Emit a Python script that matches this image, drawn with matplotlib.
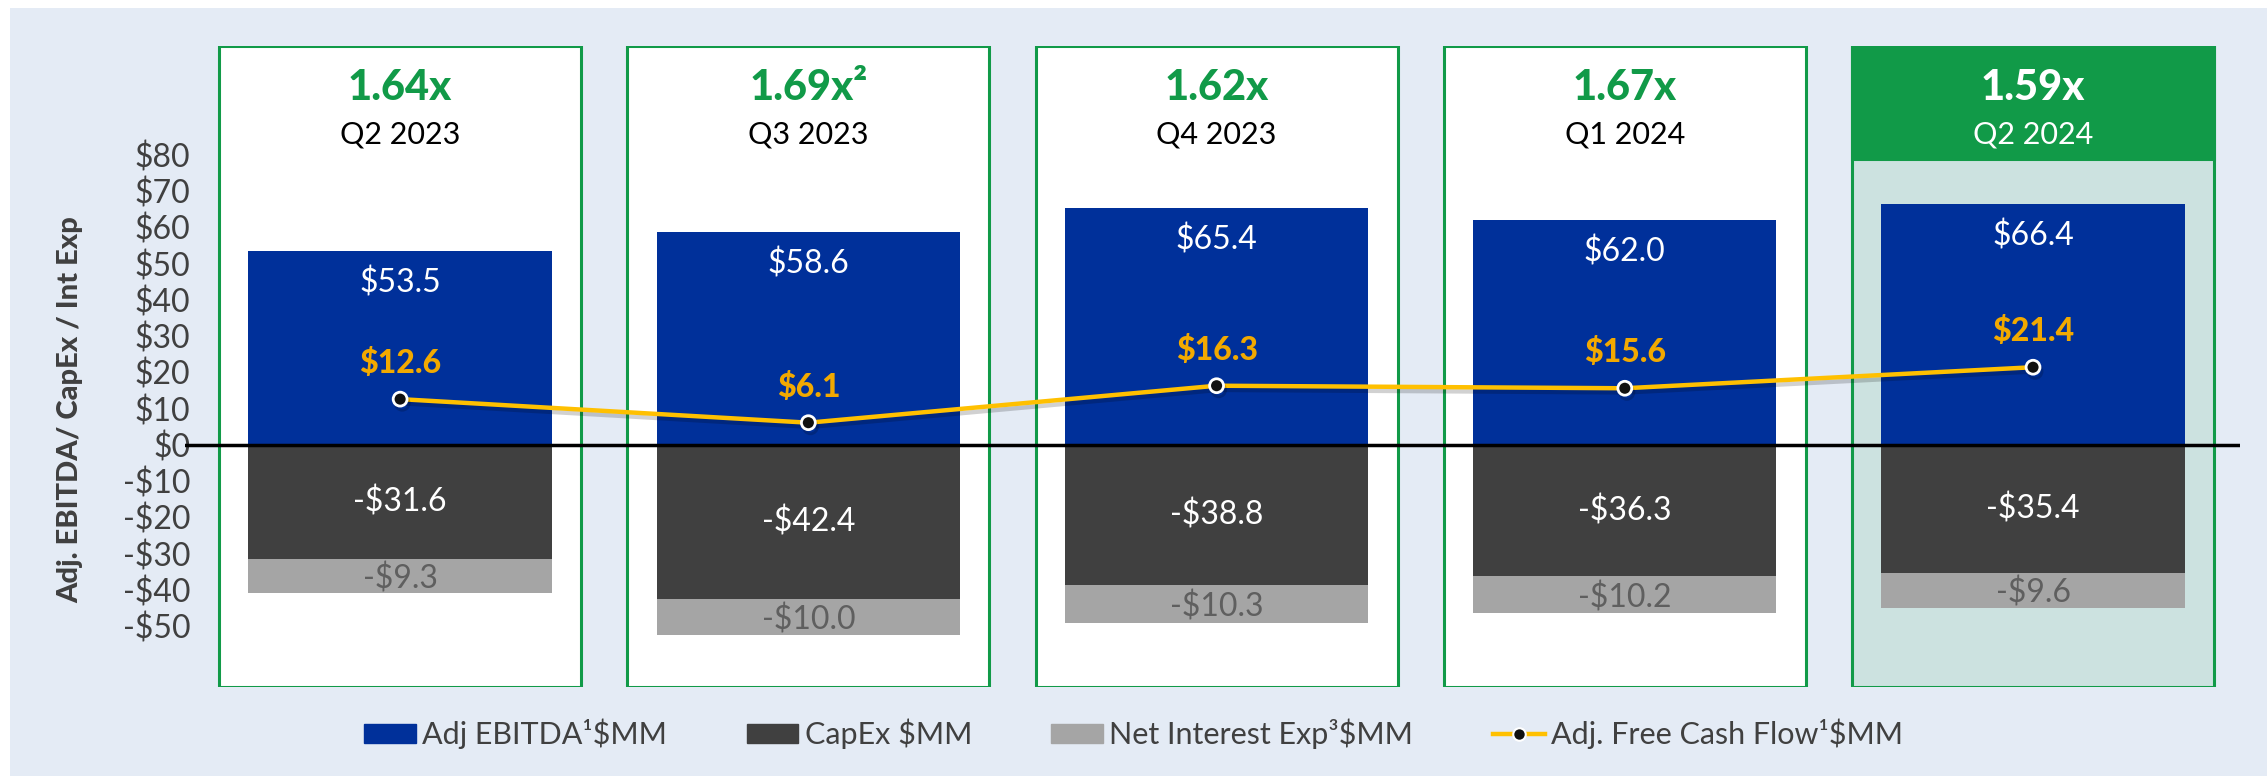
import matplotlib
matplotlib.use("Agg")
import matplotlib.pyplot as plt
from matplotlib.patches import Rectangle, Patch
from matplotlib.lines import Line2D
import matplotlib.patheffects as pe

plt.rcParams['font.family'] = ['Lato', 'DejaVu Sans']

# data
quarters = ["Q2 2023", "Q3 2023", "Q4 2023", "Q1 2024", "Q2 2024"]
ratios = ["1.64x", "1.69x²", "1.62x", "1.67x", "1.59x"]
ebitda = [53.5, 58.6, 65.4, 62.0, 66.4]
capex = [-31.6, -42.4, -38.8, -36.3, -35.4]
net_int = [-9.3, -10.0, -10.3, -10.2, -9.6]
fcf = [12.6, 6.1, 16.3, 15.6, 21.4]
yticks = [80, 70, 60, 50, 40, 30, 20, 10, 0, -10, -20, -30, -40, -50]

blue = "#00309A"
dark = "#404040"
grey = "#A5A5A5"
gold = "#FFC000"
green = "#119A48"

W, H = 2267, 776
fig = plt.figure(figsize=(W / 100, H / 100), dpi=100)
fig.patch.set_facecolor("white")
# light blue background panel
fig.patches.append(Rectangle((10 / W, 0), 1, 1 - 8 / H, transform=fig.transFigure,
                             facecolor="#E4EBF5", edgecolor="none", zorder=-10))

ax = fig.add_axes([185 / W, 1 - 687 / H, (2240 - 185) / W, (687 - 46) / H])
ax.set_facecolor("none")
ax.set_xlim(-0.527, 4.507)
ax.set_ylim(-66.8, 110)
x = list(range(len(quarters)))

# boxes around each quarter
bw = 0.887
for i in x:
    last = i == len(x) - 1
    ax.add_patch(Rectangle((i - bw / 2, -66.8), bw, 176.8,
                           facecolor="#CCE2E0" if last else "white",
                           edgecolor=green, lw=2.2, zorder=0))
    if last:
        ax.add_patch(Rectangle((i - bw / 2, 78.9), bw, 31.1,
                               facecolor=green, edgecolor=green, lw=2.2, zorder=1))
    ax.text(i, 98.4, ratios[i], ha="center", va="center", fontsize=30, fontweight="black",
            color="white" if last else green, zorder=3)
    ax.text(i, 85.6, quarters[i], ha="center", va="center", fontsize=22,
            color="white" if last else "black", zorder=3)

bar_w = 0.743
ax.bar(x, ebitda, bar_w, color=blue, zorder=2)
ax.bar(x, capex, bar_w, color=dark, zorder=2)
ax.bar(x, net_int, bar_w, bottom=capex, color=grey, zorder=2)

ax.axhline(0, color="black", lw=2.5, zorder=4)

line, = ax.plot(x, fcf, color=gold, lw=3.2, marker="o", markersize=10,
                markerfacecolor="#111111", markeredgecolor="white", markeredgewidth=2, zorder=5)
line.set_path_effects([pe.SimpleLineShadow(offset=(1.5, -3), alpha=0.18, shadow_color="black"), pe.Normal()])

for i in x:
    ax.annotate("$%.1f" % ebitda[i], (i, ebitda[i]), xytext=(0, -23), textcoords="offset points",
                ha="center", va="center", fontsize=23, color="white", zorder=6)
    ax.annotate("$%.1f" % fcf[i], (i, fcf[i]), xytext=(0, 26), textcoords="offset points",
                ha="center", va="center", fontsize=23, fontweight="black", color="#F2A900", zorder=6)
    ax.text(i, capex[i] / 2, "-$%.1f" % abs(capex[i]), ha="center", va="center",
            fontsize=23, color="white", zorder=6)
    ax.text(i, capex[i] + net_int[i] / 2 - 0.8, "-$%.1f" % abs(net_int[i]), ha="center", va="center",
            fontsize=23, color="#5F5F5F", zorder=6)

ax.set_yticks(yticks)
ax.set_yticklabels([("-$%d" % -v) if v < 0 else ("$%d" % v) for v in yticks])
ax.tick_params(axis="y", length=0, labelsize=23, labelcolor=dark, pad=-4)
ax.set_xticks([])
for s in ax.spines.values():
    s.set_visible(False)

fig.text(70 / W, 1 - 410 / H, "Adj. EBITDA/ CapEx / Int Exp", rotation=90, ha="center", va="center",
         fontsize=21, fontweight="black", color=dark)

handles = [Patch(color=blue), Patch(color=dark), Patch(color=grey),
           Line2D([], [], color=gold, lw=3.2, marker="o", markersize=9,
                  markerfacecolor="#111111", markeredgecolor="white", markeredgewidth=1.5)]
labels = ["Adj EBITDA¹$MM", "CapEx $MM", "Net Interest Exp³$MM", "Adj. Free Cash Flow¹$MM"]
fig.legend(handles, labels, loc="center", bbox_to_anchor=(0.5, 1 - 734 / H), ncol=4, frameon=False,
           fontsize=22, labelcolor=dark, handlelength=1.7, handleheight=0.6,
           handletextpad=0.2, columnspacing=2.6)

fig.savefig("out.png", dpi=100, facecolor=fig.get_facecolor())
